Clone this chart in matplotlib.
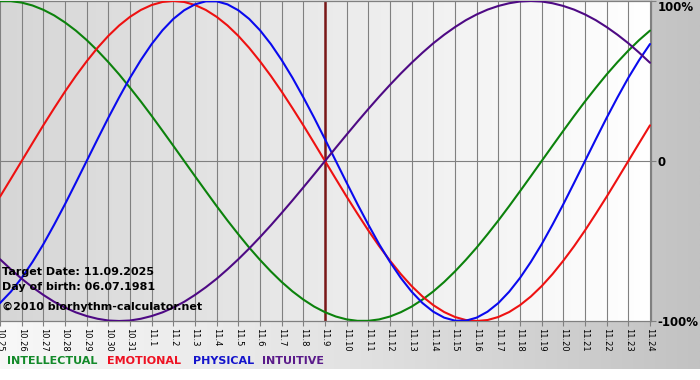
import numpy as np
import matplotlib
matplotlib.use("Agg")
import matplotlib.pyplot as plt
from matplotlib.colors import LinearSegmentedColormap

# ---------------- data ----------------
day_labels = ["10.25", "10.26", "10.27", "10.28", "10.29", "10.30", "10.31",
              "11.1", "11.2", "11.3", "11.4", "11.5", "11.6", "11.7", "11.8",
              "11.9", "11.10", "11.11", "11.12", "11.13", "11.14", "11.15",
              "11.16", "11.17", "11.18", "11.19", "11.20", "11.21", "11.22",
              "11.23", "11.24"]

# values read every half day, from 10.25 to 11.24 (fraction of 100%)
intellectual = [0.999, 0.999, 0.990, 0.972, 0.945, 0.910, 0.866, 0.815, 0.756,
                0.690, 0.618, 0.541, 0.458, 0.372, 0.282, 0.189, 0.095, 0.000,
                -0.095, -0.189, -0.282, -0.372, -0.458, -0.541, -0.618, -0.690,
                -0.756, -0.815, -0.866, -0.910, -0.945, -0.972, -0.990, -0.999,
                -0.999, -0.990, -0.972, -0.945, -0.910, -0.866, -0.815, -0.756,
                -0.690, -0.618, -0.541, -0.458, -0.372, -0.282, -0.189, -0.095,
                0.000, 0.095, 0.189, 0.282, 0.372, 0.458, 0.541, 0.618, 0.690,
                0.756, 0.815]

emotional = [-0.223, -0.112, 0.000, 0.112, 0.223, 0.330, 0.434, 0.532, 0.623,
             0.707, 0.782, 0.847, 0.901, 0.944, 0.975, 0.994, 1.000, 0.994,
             0.975, 0.944, 0.901, 0.847, 0.782, 0.707, 0.623, 0.532, 0.434,
             0.330, 0.223, 0.112, 0.000, -0.112, -0.223, -0.330, -0.434,
             -0.532, -0.623, -0.707, -0.782, -0.847, -0.901, -0.944, -0.975,
             -0.994, -1.000, -0.994, -0.975, -0.944, -0.901, -0.847, -0.782,
             -0.707, -0.623, -0.532, -0.434, -0.330, -0.223, -0.112, 0.000,
             0.112, 0.223]

physical = [-0.888, -0.817, -0.731, -0.631, -0.520, -0.398, -0.270, -0.136,
            0.000, 0.136, 0.270, 0.398, 0.520, 0.631, 0.731, 0.817, 0.888,
            0.942, 0.979, 0.998, 0.998, 0.979, 0.942, 0.888, 0.817, 0.731,
            0.631, 0.520, 0.398, 0.270, 0.136, 0.000, -0.136, -0.270, -0.398,
            -0.520, -0.631, -0.731, -0.817, -0.888, -0.942, -0.979, -0.998,
            -0.998, -0.979, -0.942, -0.888, -0.817, -0.731, -0.631, -0.520,
            -0.398, -0.270, -0.136, 0.000, 0.136, 0.270, 0.398, 0.520, 0.631,
            0.731]

intuitive = [-0.614, -0.677, -0.736, -0.789, -0.837, -0.880, -0.916, -0.946,
             -0.969, -0.986, -0.997, -1.000, -0.997, -0.986, -0.969, -0.946,
             -0.916, -0.880, -0.837, -0.789, -0.736, -0.677, -0.614, -0.547,
             -0.476, -0.402, -0.325, -0.246, -0.165, -0.083, 0.000, 0.083,
             0.165, 0.246, 0.325, 0.402, 0.476, 0.547, 0.614, 0.677, 0.736,
             0.789, 0.837, 0.880, 0.916, 0.946, 0.969, 0.986, 0.997, 1.000,
             0.997, 0.986, 0.969, 0.946, 0.916, 0.880, 0.837, 0.789, 0.736,
             0.677, 0.614]

series_names = ["INTELLECTUAL", "EMOTIONAL", "PHYSICAL", "INTUITIVE"]
target_day = "11.9"
target_text = "Target Date: 11.09.2025"
birth_text = "Day of birth: 06.07.1981"
copyright_text = "\u00a92010 biorhythm-calculator.net"
y_ticks = [-1, 0, 1]
y_tick_labels = ["-100%", "0", "100%"]

# ---------------- style ----------------
line_colors = ["#0c820c", "#ee1111", "#0a0aee", "#4e0a84"]
legend_colors = ["#138a2a", "#ee1122", "#1414cc", "#5a1a8a"]
W, H = 700, 380

plt.rcParams['font.family'] = ['DejaVu Sans']
fig = plt.figure(figsize=(W / 100, H / 100), dpi=100)
fig.patch.set_facecolor("white")

# background band (bottom and right)
bg = fig.add_axes([0, 0, 1, 1], zorder=-10)
bg.set_xlim(0, W)
bg.set_ylim(H, 0)
bg.axis("off")
band_cmap = LinearSegmentedColormap.from_list("band", ["#f8f8f8", "#e2e2e2", "#c2c2c2"])
bg.imshow(np.linspace(0, 1, 256).reshape(1, -1), cmap=band_cmap,
          extent=(0, W, 369, 0), aspect="auto", interpolation="bilinear")

# main plot area
ax_left, ax_right, ax_top, ax_bot = 0, 651, 1, 321
ax = fig.add_axes([ax_left / W, (H - ax_bot) / H, (ax_right - ax_left) / W,
                   (ax_bot - ax_top) / H])
x = np.arange(len(day_labels))
x_samples = np.linspace(0, len(day_labels) - 1, len(physical))
xmax = (len(day_labels) - 1) * 651 / 650
plot_cmap = LinearSegmentedColormap.from_list("plot", ["#d6d6d6", "#ffffff"])
ax.imshow(np.linspace(0, 1, 256).reshape(1, -1), cmap=plot_cmap,
          extent=(0, xmax, -1, 1), aspect="auto", zorder=0,
          interpolation="bilinear")

# vertical day lines
for xi in x:
    ax.axvline(xi, color="#808080", lw=0.8, zorder=1)
ax.axhline(0, color="#808080", lw=0.8, zorder=1)

# target line
ti = day_labels.index(target_day)
ax.axvline(x[ti], color="#7a1818", lw=1.8, zorder=2)

for vals, col in zip([intellectual, emotional, physical, intuitive], line_colors):
    ax.plot(x_samples, vals, color=col, lw=1.5, zorder=3,
            solid_capstyle="round", solid_joinstyle="round")

ax.set_xlim(0, xmax)
ax.set_ylim(-1, 1)
for s in ["top", "bottom", "right"]:
    ax.spines[s].set_color("#808080")
    ax.spines[s].set_linewidth(0.9)
ax.spines["left"].set_visible(False)

ax.set_xticks(x)
ax.set_xticklabels(day_labels, rotation=270, fontsize=6)
ax.tick_params(axis="x", length=3.5, width=0.8, color="#808080", pad=1.5)

ax.yaxis.tick_right()
ax.set_yticks(y_ticks)
ax.set_yticklabels(y_tick_labels, fontsize=8.5, fontweight="bold")
ax.tick_params(axis="y", length=3.5, width=0.8, color="#808080", pad=1)
ax.get_yticklabels()[2].set_verticalalignment("top")

# info text
txt_kw = dict(fontsize=8, fontweight="bold", color="black", va="center",
              ha="left", zorder=5)
fig.text(2 / W, 1 - 272 / H, target_text, **txt_kw)
fig.text(2 / W, 1 - 287 / H, birth_text, **txt_kw)
fig.text(2 / W, 1 - 307 / H, copyright_text, **txt_kw)

# legend
leg_x = [7, 107, 193, 262]
for name, col, lx in zip(series_names, legend_colors, leg_x):
    fig.text(lx / W, 1 - 361 / H, name, color=col, fontsize=8,
             fontweight="bold", va="center", ha="left")

fig.savefig("out.png", dpi=100)
